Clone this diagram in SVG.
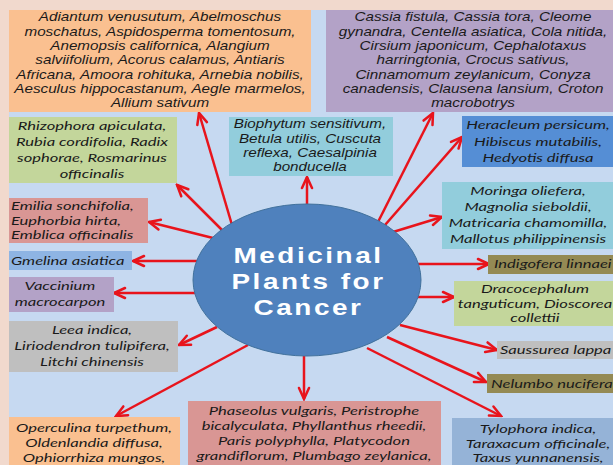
<svg xmlns="http://www.w3.org/2000/svg" width="613" height="465" viewBox="0 0 613 465">
<defs>
<style>
.ar{font-family:"Liberation Sans",Arial,sans-serif;font-style:italic;font-size:12px;fill:#1a1a1a;text-anchor:middle}
.lt{font-family:Lato,"Open Sans",sans-serif;font-style:italic;font-size:12px;fill:#1a1a1a;text-anchor:middle}
.lts{font-family:Lato,"Open Sans",sans-serif;font-style:italic;font-size:12px;fill:#1a1a1a;text-anchor:start}
.title{font-family:"Liberation Sans",Arial,sans-serif;font-weight:bold;font-size:22px;fill:#ffffff;text-anchor:middle;letter-spacing:2px}
.arrow{stroke:#e8141c;stroke-width:2.5;fill:none;marker-end:url(#ah)}
</style>
<marker id="ah" viewBox="-14 -8 16 16" refX="0" refY="0" markerWidth="16" markerHeight="16" markerUnits="userSpaceOnUse" orient="auto">
<path d="M-11,-5 L0,0 L-11,5" fill="none" stroke="#e8141c" stroke-width="2.5" stroke-linecap="round" stroke-linejoin="miter"/>
</marker>
</defs>
<rect x="0" y="0" width="613" height="465" fill="#f1d9cd"/>
<rect x="9" y="10" width="604" height="455" fill="#c6d9f1"/>

<g id="connectors">
<line class="arrow" x1="232" y1="225" x2="199" y2="113"/>
<line class="arrow" x1="222" y1="230" x2="177" y2="185"/>
<line class="arrow" x1="213" y1="238" x2="149" y2="222"/>
<line class="arrow" x1="197" y1="261" x2="133" y2="261"/>
<line class="arrow" x1="195" y1="293" x2="114" y2="293"/>
<line class="arrow" x1="217" y1="327" x2="179" y2="345"/>
<line class="arrow" x1="248" y1="345" x2="116" y2="416"/>
<line class="arrow" x1="304" y1="356" x2="304" y2="399"/>
<line class="arrow" x1="367" y1="348" x2="501" y2="416"/>
<line class="arrow" x1="387" y1="337" x2="486" y2="382"/>
<line class="arrow" x1="400" y1="325" x2="497" y2="350"/>
<line class="arrow" x1="418" y1="297" x2="454" y2="297"/>
<line class="arrow" x1="418" y1="264" x2="489" y2="264"/>
<line class="arrow" x1="393" y1="232" x2="442" y2="217"/>
<line class="arrow" x1="385" y1="225" x2="462" y2="137"/>
<line class="arrow" x1="378" y1="222" x2="433" y2="113"/>
<line class="arrow" x1="307" y1="204" x2="307" y2="177"/>
</g>

<g id="center">
<ellipse cx="307" cy="280" rx="114" ry="76" fill="#4f81bd" stroke="#41719c" stroke-width="1"/>
<g transform="translate(308.5 0) scale(1.27 1)">
<text class="title" x="0" y="263">Medicinal</text>
<text class="title" x="0" y="289">Plants for</text>
<text class="title" x="0" y="315">Cancer</text>
</g>
</g>

<g id="box-a">
<rect x="9" y="10" width="302" height="102" fill="#fac090"/>
<g transform="translate(160 0) scale(1.27 1)">
<text class="ar" x="0" y="21.5">Adiantum venusutum, Abelmoschus</text>
<text class="ar" x="0" y="35.8">moschatus, Aspidosperma tomentosum,</text>
<text class="ar" x="0" y="50.1">Anemopsis californica, Alangium</text>
<text class="ar" x="0" y="64.4">salviifolium, Acorus calamus, Antiaris</text>
<text class="ar" x="0" y="78.7">Africana, Amoora rohituka, Arnebia nobilis,</text>
<text class="ar" x="0" y="93">Aesculus hippocastanum, Aegle marmelos,</text>
<text class="ar" x="0" y="107.3">Allium sativum</text>
</g>
</g>

<g id="box-b">
<rect x="326" y="10" width="287" height="102" fill="#b3a2c7"/>
<g transform="translate(473 0) scale(1.27 1)">
<text class="ar" x="0" y="21.5">Cassia fistula, Cassia tora, Cleome</text>
<text class="ar" x="0" y="35.8">gynandra, Centella asiatica, Cola nitida,</text>
<text class="ar" x="0" y="50.1">Cirsium japonicum, Cephalotaxus</text>
<text class="ar" x="0" y="64.4">harringtonia, Crocus sativus,</text>
<text class="ar" x="0" y="78.7">Cinnamomum zeylanicum, Conyza</text>
<text class="ar" x="0" y="93">canadensis, Clausena lansium, Croton</text>
<text class="ar" x="0" y="107.3">macrobotrys</text>
</g>
</g>

<g id="box-c">
<rect x="229" y="117" width="164" height="59" fill="#92cddc"/>
<g transform="translate(310 0) scale(1.27 1)">
<text class="ar" x="0" y="128.3">Biophytum sensitivum,</text>
<text class="ar" x="0" y="142.6">Betula utilis, Cuscuta</text>
<text class="ar" x="0" y="156.9">reflexa, Caesalpinia</text>
<text class="ar" x="0" y="171.2">bonducella</text>
</g>
</g>

<g id="box-d">
<rect x="9" y="117" width="168" height="66" fill="#c3d69b"/>
<g transform="translate(92 0) scale(1.38 1)">
<text class="lt" x="0" y="130">Rhizophora apiculata,</text>
<text class="lt" x="0" y="146">Rubia cordifolia, Radix</text>
<text class="lt" x="0" y="162">sophorae, Rosmarinus</text>
<text class="lt" x="0" y="178">officinalis</text>
</g>
</g>

<g id="box-e">
<rect x="9" y="198" width="139" height="45" fill="#d99694"/>
<g transform="translate(11 0) scale(1.38 1)">
<text class="lts" x="0" y="210">Emilia sonchifolia,</text>
<text class="lts" x="0" y="225">Euphorbia hirta,</text>
<text class="lts" x="0" y="239.5">Emblica officinalis</text>
</g>
</g>

<g id="box-f">
<rect x="9" y="251" width="123" height="19" fill="#8eb4e3"/>
<g transform="translate(11 0) scale(1.38 1)">
<text class="lts" x="0" y="265">Gmelina asiatica</text>
</g>
</g>

<g id="box-g">
<rect x="9" y="277" width="105" height="35" fill="#b3a2c7"/>
<g transform="translate(60 0) scale(1.38 1)">
<text class="lt" x="0" y="290">Vaccinium</text>
<text class="lt" x="0" y="306">macrocarpon</text>
</g>
</g>

<g id="box-h">
<rect x="9" y="321" width="169" height="51" fill="#bfbfbf"/>
<g transform="translate(92 0) scale(1.38 1)">
<text class="lt" x="0" y="334">Leea indica,</text>
<text class="lt" x="0" y="350">Liriodendron tulipifera,</text>
<text class="lt" x="0" y="366">Litchi chinensis</text>
</g>
</g>

<g id="box-i">
<rect x="9" y="417" width="171" height="48" fill="#fac090"/>
<g transform="translate(94 0) scale(1.38 1)">
<text class="lt" x="0" y="432">Operculina turpethum,</text>
<text class="lt" x="0" y="447">Oldenlandia diffusa,</text>
<text class="lt" x="0" y="462">Ophiorrhiza mungos,</text>
</g>
</g>

<g id="box-j">
<rect x="188" y="401" width="253" height="64" fill="#d99694"/>
<g transform="translate(314 0) scale(1.38 1)">
<text class="lt" x="0" y="415">Phaseolus vulgaris, Peristrophe</text>
<text class="lt" x="0" y="430">bicalyculata, Phyllanthus rheedii,</text>
<text class="lt" x="0" y="445">Paris polyphylla, Platycodon</text>
<text class="lt" x="0" y="460">grandiflorum, Plumbago zeylanica,</text>
</g>
</g>

<g id="box-k">
<rect x="452" y="418" width="161" height="47" fill="#95b3d7"/>
<g transform="translate(538 0) scale(1.38 1)">
<text class="lt" x="0" y="433">Tylophora indica,</text>
<text class="lt" x="0" y="448">Taraxacum officinale,</text>
<text class="lt" x="0" y="462">Taxus yunnanensis,</text>
</g>
</g>

<g id="box-l">
<rect x="462" y="116" width="151" height="51" fill="#558ed5"/>
<g transform="translate(538 0) scale(1.38 1)">
<text class="lt" x="0" y="129.5">Heracleum persicum,</text>
<text class="lt" x="0" y="146">Hibiscus mutabilis,</text>
<text class="lt" x="0" y="162">Hedyotis diffusa</text>
</g>
</g>

<g id="box-m">
<rect x="442" y="182" width="171" height="67" fill="#92cddc"/>
<g transform="translate(528 0) scale(1.38 1)">
<text class="lt" x="0" y="195.5">Moringa oliefera,</text>
<text class="lt" x="0" y="211.5">Magnolia sieboldii,</text>
<text class="lt" x="0" y="227.5">Matricaria chamomilla,</text>
<text class="lt" x="0" y="243.5">Mallotus philippinensis</text>
</g>
</g>

<g id="box-n">
<rect x="488" y="255" width="125" height="19" fill="#948a54"/>
<g transform="translate(494 0) scale(1.38 1)">
<text class="lts" x="0" y="268.5">Indigofera linnaei</text>
</g>
</g>

<g id="box-o">
<rect x="454" y="281" width="159" height="45" fill="#c3d69b"/>
<g transform="translate(535 0) scale(1.38 1)">
<text class="lt" x="0" y="293">Dracocephalum</text>
<text class="lt" x="0" y="308">tanguticum, Dioscorea</text>
<text class="lt" x="0" y="322">collettii</text>
</g>
</g>

<g id="box-p">
<rect x="497" y="341" width="116" height="18" fill="#bfbfbf"/>
<g transform="translate(500 0) scale(1.38 1)">
<text class="lts" x="0" y="354">Saussurea lappa</text>
</g>
</g>

<g id="box-q">
<rect x="487" y="374" width="126" height="19" fill="#948a54"/>
<g transform="translate(491 0) scale(1.38 1)">
<text class="lts" x="0" y="388">Nelumbo nucifera</text>
</g>
</g>
</svg>
